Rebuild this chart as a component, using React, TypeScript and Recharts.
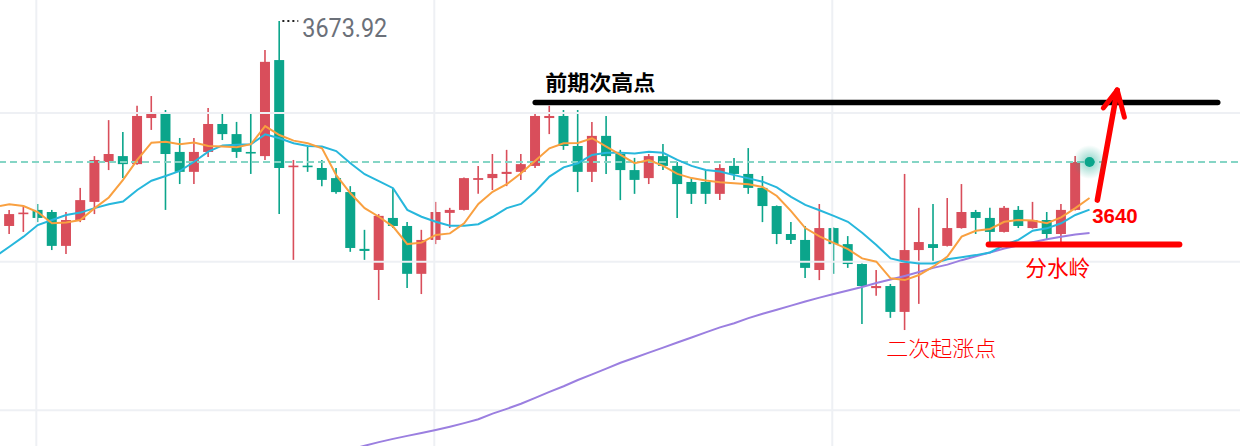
import React from "react";
import {
  ComposedChart,
  Bar,
  Line,
  XAxis,
  YAxis,
  ReferenceLine,
  ReferenceDot,
} from "recharts";

// daily candles (price units)
const candleOpen = [
  3605.0, 3609.2, 3610.4, 3609.7, 3598.3, 3607.0, 3613.1, 3626.5, 3628.5, 3625.8,
  3641.3, 3642.7, 3629.9, 3623.2, 3629.9, 3639.3, 3635.9, 3629.9, 3628.5, 3660.8,
  3624.8, 3625.3, 3624.5, 3621.1, 3616.4, 3597.3, 3590.2, 3607.7, 3605.0, 3588.9,
  3600.3, 3609.4, 3610.4, 3620.5, 3621.1, 3622.5, 3623.2, 3625.2, 3641.3, 3642.0,
  3631.9, 3623.2, 3635.3, 3629.2, 3623.8, 3621.1, 3628.5, 3625.2, 3619.8, 3619.8,
  3615.8, 3625.2, 3622.5, 3617.8, 3611.7, 3602.3, 3600.3, 3590.2, 3604.3, 3598.9,
  3592.2, 3584.1, 3584.8, 3576.1, 3596.9, 3598.9, 3598.3, 3604.3, 3609.7, 3607.7,
  3603.0, 3610.4, 3604.3, 3607.0, 3602.3, 3610.4,
];
const candleHigh = [
  3610.4, 3611.7, 3612.4, 3610.4, 3609.7, 3617.8, 3628.5, 3640.6, 3636.6, 3645.4,
  3648.7, 3644.0, 3634.6, 3634.6, 3644.7, 3643.3, 3640.0, 3642.7, 3664.2, 3673.92,
  3627.2, 3631.6, 3627.2, 3624.5, 3618.4, 3603.7, 3609.0, 3617.8, 3606.3, 3603.7,
  3613.1, 3611.1, 3621.3, 3625.2, 3629.2, 3630.6, 3629.2, 3643.3, 3645.4, 3644.0,
  3644.0, 3640.0, 3642.0, 3630.6, 3627.9, 3629.2, 3632.6, 3626.5, 3621.1, 3623.8,
  3625.8, 3627.9, 3631.2, 3621.8, 3611.9, 3606.3, 3605.0, 3612.4, 3604.5, 3601.6,
  3592.4, 3590.2, 3585.5, 3622.5, 3611.1, 3612.4, 3614.4, 3619.1, 3610.4, 3611.1,
  3611.7, 3611.7, 3613.1, 3609.7, 3612.4, 3628.5,
];
const candleLow = [
  3602.3, 3603.0, 3606.3, 3596.9, 3595.6, 3606.3, 3609.0, 3623.8, 3621.1, 3625.6,
  3637.3, 3610.4, 3619.1, 3619.1, 3628.2, 3633.9, 3627.9, 3622.5, 3627.2, 3609.0,
  3593.6, 3623.2, 3618.4, 3615.8, 3596.3, 3593.6, 3580.1, 3604.3, 3584.1, 3582.1,
  3598.9, 3604.3, 3610.2, 3615.8, 3617.1, 3618.4, 3620.5, 3624.5, 3635.9, 3630.6,
  3616.4, 3619.8, 3622.5, 3613.7, 3615.8, 3619.1, 3623.8, 3607.7, 3612.4, 3612.4,
  3613.7, 3620.5, 3615.8, 3606.3, 3598.9, 3598.9, 3587.5, 3586.8, 3588.9, 3590.9,
  3572.0, 3581.5, 3574.1, 3570.0, 3578.8, 3592.5, 3598.1, 3604.1, 3602.3, 3598.9,
  3602.8, 3604.3, 3604.1, 3600.3, 3598.9, 3610.2,
];
const candleClose = [
  3609.0, 3609.5, 3607.7, 3598.3, 3607.0, 3613.7, 3627.2, 3629.2, 3625.8, 3642.0,
  3642.7, 3629.2, 3623.2, 3629.9, 3639.3, 3635.9, 3629.9, 3629.4, 3660.2, 3624.5,
  3625.3, 3624.8, 3620.5, 3616.4, 3597.6, 3596.6, 3608.4, 3605.0, 3588.9, 3600.3,
  3609.7, 3610.4, 3621.1, 3621.1, 3622.5, 3623.2, 3625.8, 3642.0, 3642.0, 3631.9,
  3623.2, 3635.3, 3628.5, 3623.8, 3620.5, 3628.5, 3625.2, 3619.1, 3615.8, 3615.8,
  3624.5, 3622.5, 3617.8, 3611.7, 3602.3, 3600.3, 3590.9, 3604.3, 3598.9, 3592.2,
  3584.8, 3584.8, 3576.1, 3596.9, 3599.6, 3597.6, 3604.3, 3609.7, 3607.7, 3603.0,
  3611.1, 3605.0, 3607.0, 3602.3, 3610.4, 3626.5,
];

// moving averages per slot (slot 0 = day before the first candle, slot 77 = live point)
const ma5 = [
  3611.4, 3612.3, 3611.7, 3609.7, 3605.9, 3606.2, 3607.0, 3611.0, 3614.6, 3620.5, 3627.2,
  3633.0, 3633.3, 3632.5, 3633.1, 3631.9, 3631.7, 3631.5, 3632.5, 3638.6, 3635.6,
  3633.7, 3632.8, 3631.1, 3622.1, 3616.0, 3611.0, 3608.1, 3604.8, 3598.9, 3599.4,
  3602.0, 3602.5, 3605.9, 3612.4, 3616.5, 3619.1, 3622.7, 3626.9, 3631.1, 3632.8,
  3632.9, 3634.5, 3631.7, 3628.9, 3626.1, 3627.2, 3625.2, 3622.5, 3621.1, 3620.3,
  3619.7, 3619.4, 3619.0, 3618.1, 3615.1, 3610.0, 3604.3, 3601.5, 3599.3, 3597.2,
  3594.1, 3593.0, 3587.4, 3586.8, 3588.5, 3591.3, 3594.7, 3601.4, 3603.4, 3604.0,
  3606.4, 3607.0, 3606.8, 3605.9, 3607.9, 3611.0, 3614.4,
];
const ma10 = [
  3594.7, 3598.0, 3601.4, 3605.3, 3607.0, 3608.7, 3609.5, 3611.0, 3612.3, 3613.2, 3617.1,
  3620.2, 3621.8, 3623.5, 3626.6, 3630.0, 3632.1, 3632.3, 3632.5, 3635.8, 3634.5,
  3632.8, 3631.9, 3631.7, 3630.2, 3626.1, 3622.4, 3620.1, 3617.7, 3610.4, 3608.1,
  3606.4, 3605.1, 3605.1, 3605.6, 3608.1, 3611.0, 3612.4, 3616.5, 3621.6, 3624.7,
  3626.1, 3628.9, 3629.6, 3629.6, 3629.4, 3630.0, 3629.6, 3627.2, 3625.2, 3623.8,
  3623.3, 3622.1, 3621.0, 3619.9, 3618.0, 3614.8, 3612.1, 3610.3, 3608.4, 3606.4,
  3602.7, 3598.6, 3594.1, 3593.0, 3592.4, 3592.4, 3593.8, 3594.5, 3595.2, 3596.1,
  3598.6, 3600.3, 3603.4, 3604.2, 3605.9, 3608.7, 3610.5,
];
// long MA only enters the visible range from slot 25
const ma60Start = 25;
const ma60 = [
  3529.8, 3531.1, 3532.3, 3533.4, 3534.4, 3535.4, 3536.4, 3537.5, 3538.7, 3540.0,
  3541.9, 3543.5, 3545.2, 3547.2, 3549.2, 3551.1, 3553.2, 3555.1, 3557.0, 3559.0,
  3560.7, 3562.4, 3564.1, 3565.8, 3567.5, 3569.2, 3570.9, 3572.3, 3574.0, 3575.5,
  3576.8, 3578.2, 3579.6, 3580.9, 3582.1, 3583.3, 3584.5, 3585.8, 3587.0, 3588.2,
  3589.5, 3590.9, 3592.0, 3593.5, 3594.8, 3596.1, 3597.4, 3598.5, 3599.5, 3600.5,
  3601.4, 3602.1, 3602.6,
];

const gridPrices = [3543, 3593, 3643];
const gridSlots = [2.9, 30.9, 58.9];

const periodHigh = 3673.92;
const lastClose = candleClose[candleClose.length - 1];

const SLOTS = 89;
const PRICE_MIN = 3531;
const PRICE_MAX = 3681;
const BAND = 1265 / SLOTS;

const RED = "#d94e5b";
const GREEN = "#0ba58b";
const GRID = "#eef0f4";

const rows = Array.from({ length: SLOTS }, (_, s) => {
  const i = s - 1;
  const has = i >= 0 && i < candleOpen.length;
  const j = s - ma60Start;
  return {
    slot: s,
    range: has ? [candleLow[i], candleHigh[i]] : null,
    open: has ? candleOpen[i] : null,
    high: has ? candleHigh[i] : null,
    low: has ? candleLow[i] : null,
    close: has ? candleClose[i] : null,
    ma5: s < ma5.length ? ma5[s] : null,
    ma10: s < ma10.length ? ma10[s] : null,
    ma60: j >= 0 && j < ma60.length ? ma60[j] : null,
  };
});

function Candle(props: any) {
  const { x, y, width, height, payload } = props;
  if (!payload || payload.open == null) return null;
  const { open, close, high, low } = payload;
  const top = Math.min(y, y + height);
  const h = Math.abs(height);
  const py = (v: number) => top + ((high - v) / (high - low)) * h;
  const color = close >= open ? RED : GREEN;
  const cx = x + width / 2;
  const bTop = py(Math.max(open, close));
  const bh = Math.max(py(Math.min(open, close)) - bTop, 1.6);
  return (
    <g>
      <line x1={cx} x2={cx} y1={top} y2={top + h} stroke={color} strokeWidth={1.6} />
      <rect x={cx - 5} y={bTop} width={10} height={bh} fill={color} />
    </g>
  );
}

function GlowDot(props: any) {
  const { cx, cy } = props;
  return (
    <g>
      <defs>
        <radialGradient id="glow">
          <stop offset="0%" stopColor={GREEN} stopOpacity={0.5} />
          <stop offset="55%" stopColor={GREEN} stopOpacity={0.22} />
          <stop offset="100%" stopColor={GREEN} stopOpacity={0} />
        </radialGradient>
      </defs>
      <circle cx={cx} cy={cy} r={17} fill="url(#glow)" />
      <circle cx={cx} cy={cy} r={5} fill={GREEN} />
    </g>
  );
}

const label =
  (text: string, style: any) =>
  (p: any) =>
    (
      <text x={p.cx} y={p.cy} {...style}>
        {text}
      </text>
    );

const cjk = '"Noto Sans CJK SC", sans-serif';

export default function App() {
  return (
    <div
      style={{
        position: "absolute",
        left: 0,
        top: 0,
        width: 1240,
        height: 446,
        overflow: "hidden",
        background: "#ffffff",
      }}
    >
      <div style={{ position: "absolute", left: 9 - 1.5 * BAND, top: 0 }}>
        <ComposedChart
          width={1265}
          height={446}
          data={rows}
          margin={{ top: 0, right: 0, bottom: 0, left: 0 }}
        >
          <XAxis xAxisId="cat" dataKey="slot" type="category" hide />
          <XAxis
            xAxisId="num"
            dataKey="slot"
            type="number"
            domain={[-0.5, SLOTS - 0.5]}
            allowDataOverflow
            hide
          />
          <YAxis type="number" domain={[PRICE_MIN, PRICE_MAX]} allowDataOverflow hide />
          {gridPrices.map((p) => (
            <ReferenceLine key={"h" + p} xAxisId="num" y={p} stroke={GRID} strokeWidth={2} />
          ))}
          {gridSlots.map((s) => (
            <ReferenceLine key={"v" + s} xAxisId="num" x={s} stroke={GRID} strokeWidth={2} />
          ))}
          <ReferenceLine
            xAxisId="num"
            y={lastClose}
            stroke="#85d5c5"
            strokeWidth={2}
            strokeDasharray="7 4"
          />
          <Bar xAxisId="cat" dataKey="range" shape={Candle} isAnimationActive={false} />
          <Line
            xAxisId="cat"
            dataKey="ma60"
            stroke="#9b7fe0"
            strokeWidth={2}
            dot={false}
            isAnimationActive={false}
          />
          <Line
            xAxisId="cat"
            dataKey="ma10"
            stroke="#27b7dc"
            strokeWidth={2}
            dot={false}
            isAnimationActive={false}
          />
          <Line
            xAxisId="cat"
            dataKey="ma5"
            stroke="#f9a040"
            strokeWidth={2}
            dot={false}
            isAnimationActive={false}
          />
          <ReferenceDot xAxisId="num" x={77} y={lastClose} r={5} shape={GlowDot} />

          {/* high marker */}
          <ReferenceLine
            xAxisId="num"
            segment={[
              { x: 20.21, y: periodHigh },
              { x: 21.33, y: periodHigh },
            ]}
            stroke="#222"
            strokeWidth={2}
            strokeDasharray="2 3"
          />
          <ReferenceDot
            xAxisId="num"
            x={21.61}
            y={3668.7}
            r={0}
            shape={label(periodHigh.toFixed(2), {
              fill: "#6b7079",
              fontSize: 26,
              fontFamily: "Roboto, sans-serif",
              textLength: 85,
              lengthAdjust: "spacingAndGlyphs",
            })}
          />

          {/* hand annotations */}
          <ReferenceLine
            xAxisId="num"
            segment={[
              { x: 38, y: 3646.5 },
              { x: 86.02, y: 3646.5 },
            ]}
            stroke="#000"
            strokeWidth={5.5}
            strokeLinecap="round"
          />
          <ReferenceDot
            xAxisId="num"
            x={38.71}
            y={3653.6}
            r={0}
            shape={label("前期次高点", {
              fill: "#000",
              fontSize: 21,
              fontWeight: 700,
              fontFamily: cjk,
              dominantBaseline: "central",
              textLength: 110,
              lengthAdjust: "spacingAndGlyphs",
            })}
          />
          <ReferenceLine
            xAxisId="num"
            segment={[
              { x: 69.9, y: 3598.8 },
              { x: 83.32, y: 3598.8 },
            ]}
            stroke="#ff0000"
            strokeWidth={6}
            strokeLinecap="round"
          />
          <ReferenceDot
            xAxisId="num"
            x={72.48}
            y={3591.5}
            r={0}
            shape={label("分水岭", {
              fill: "#ff0000",
              fontSize: 22,
              fontFamily: cjk,
              dominantBaseline: "central",
              textLength: 65,
              lengthAdjust: "spacingAndGlyphs",
            })}
          />
          <ReferenceDot
            xAxisId="num"
            x={62.7}
            y={3564.3}
            r={0}
            shape={label("二次起涨点", {
              fill: "#ff0000",
              fontSize: 21,
              fontWeight: 300,
              fontFamily: cjk,
              dominantBaseline: "central",
              textLength: 110,
              lengthAdjust: "spacingAndGlyphs",
            })}
          />
          <ReferenceDot
            xAxisId="num"
            x={77.19}
            y={3606.0}
            r={0}
            shape={label("3640", {
              fill: "#ff0000",
              fontSize: 21,
              fontWeight: 700,
              fontFamily: '"Liberation Sans", Arial, sans-serif',
              textLength: 45.5,
              lengthAdjust: "spacingAndGlyphs",
            })}
          />
          <ReferenceLine
            xAxisId="num"
            segment={[
              { x: 77.55, y: 3613.7 },
              { x: 78.95, y: 3650.7 },
            ]}
            stroke="#ff0000"
            strokeWidth={5.5}
            strokeLinecap="round"
          />
          <ReferenceLine
            xAxisId="num"
            segment={[
              { x: 77.97, y: 3644.7 },
              { x: 78.95, y: 3650.7 },
            ]}
            stroke="#ff0000"
            strokeWidth={5}
            strokeLinecap="round"
          />
          <ReferenceLine
            xAxisId="num"
            segment={[
              { x: 79.45, y: 3641.6 },
              { x: 78.95, y: 3650.7 },
            ]}
            stroke="#ff0000"
            strokeWidth={5}
            strokeLinecap="round"
          />
        </ComposedChart>
      </div>
    </div>
  );
}
